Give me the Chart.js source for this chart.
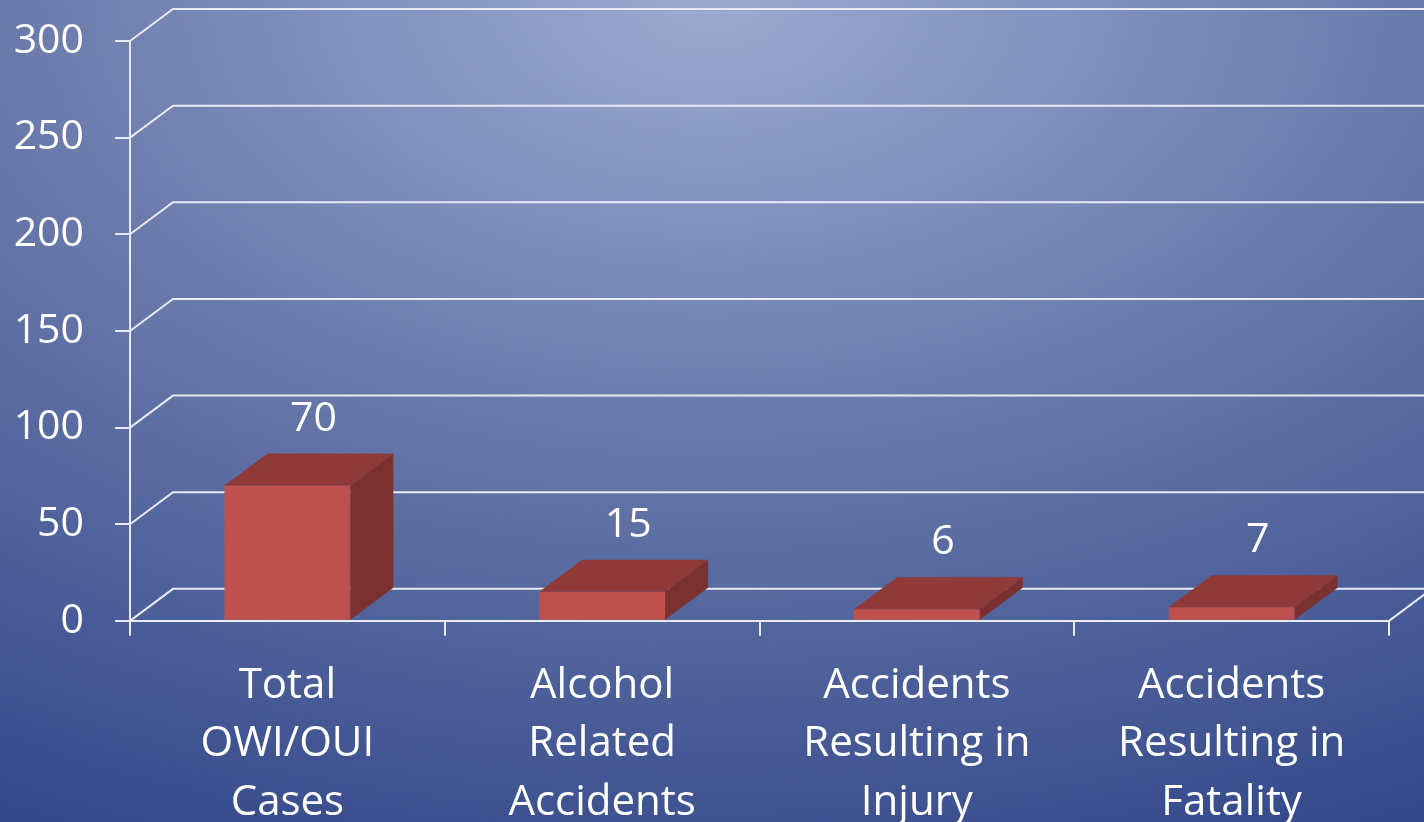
<!DOCTYPE html>
<html>
<head>
<meta charset="utf-8">
<script src="https://cdn.jsdelivr.net/npm/chart.js@4"></script>
<style>
    html, body { margin: 0; padding: 0; background: #4a5d98; }
    #wrap { width: 1424px; height: 822px; }
</style>
</head>
<body>
<div id="wrap"><canvas id="chart" width="1424" height="822"></canvas></div>
<script>
const categories = [
    ['Total', 'OWI/OUI', 'Cases'],
    ['Alcohol', 'Related', 'Accidents'],
    ['Accidents', 'Resulting in', 'Injury'],
    ['Accidents', 'Resulting in', 'Fatality']
]
const caseCounts = [70, 15, 6, 7]
const yTicks = [0, 50, 100, 150, 200, 250, 300]

const FONT = '"Open Sans", "Noto Sans", sans-serif'
const LINE = '#e8eaf2'
// depth of the 3D box in pixels
const DEPTH_X = 43
const DEPTH_Y = -32

const backgroundPlugin = {
    id: 'background',
    beforeDraw(chart) {
        const {ctx, width, height} = chart
        ctx.save()
        // elliptical glow from the top centre
        ctx.translate(width / 2, 0)
        ctx.scale(1, 0.6)
        const g = ctx.createRadialGradient(0, 0, 0, 0, 0, 1600)
        g.addColorStop(0, '#9caad1')
        g.addColorStop(0.44, '#6a7aab')
        g.addColorStop(0.96, '#33488a')
        g.addColorStop(1, '#31468a')
        ctx.fillStyle = g
        ctx.fillRect(-width, -10, width * 2, height / 0.6 + 20)
        ctx.restore()
    }
}

// back wall, floor and side wall lines
const wallPlugin = {
    id: 'walls',
    beforeDatasetsDraw(chart) {
        const {ctx, chartArea, scales: {y}} = chart
        const left = chartArea.left, right = chartArea.right
        ctx.save()
        ctx.strokeStyle = LINE
        ctx.lineWidth = 2
        yTicks.forEach(v => {
            const py = y.getPixelForValue(v)
            ctx.beginPath()
            ctx.moveTo(left, py)
            ctx.lineTo(left + DEPTH_X, py + DEPTH_Y)
            ctx.lineTo(chart.width + 10, py + DEPTH_Y)
            ctx.stroke()
        })
        const base = y.getPixelForValue(0)
        ctx.beginPath()
        ctx.moveTo(right, base)
        ctx.lineTo(right + DEPTH_X, base + DEPTH_Y)
        ctx.stroke()
        ctx.restore()
    }
}

// top and side faces of each bar plus the value labels
const boxPlugin = {
    id: 'boxes',
    afterDatasetsDraw(chart) {
        const {ctx} = chart
        const meta = chart.getDatasetMeta(0)
        ctx.save()
        meta.data.forEach((bar, i) => {
            const {x, y, base, width} = bar.getProps(['x', 'y', 'base', 'width'], true)
            const l = x - width / 2, r = x + width / 2
            ctx.fillStyle = '#8f3a39'
            ctx.beginPath()
            ctx.moveTo(l, y)
            ctx.lineTo(l + DEPTH_X, y + DEPTH_Y)
            ctx.lineTo(r + DEPTH_X, y + DEPTH_Y)
            ctx.lineTo(r, y)
            ctx.closePath()
            ctx.fill()
            ctx.fillStyle = '#7b3130'
            ctx.beginPath()
            ctx.moveTo(r, y)
            ctx.lineTo(r + DEPTH_X, y + DEPTH_Y)
            ctx.lineTo(r + DEPTH_X, base + DEPTH_Y)
            ctx.lineTo(r, base)
            ctx.closePath()
            ctx.fill()

            ctx.fillStyle = '#ffffff'
            ctx.font = '41px ' + FONT
            ctx.textAlign = 'center'
            ctx.textBaseline = 'alphabetic'
            ctx.fillText(String(caseCounts[i]), x + 26, y + DEPTH_Y - 23)
        })
        ctx.restore()
    }
}

new Chart(document.getElementById('chart'), {
    type: 'bar',
    data: {
        labels: categories,
        datasets: [{
            data: caseCounts,
            backgroundColor: '#c0504d',
            borderWidth: 0,
            categoryPercentage: 0.4,
            barPercentage: 1
        }]
    },
    options: {
        responsive: false,
        animation: false,
        events: [],
        layout: {padding: {top: 41, right: 35, left: 12, bottom: -31}},
        plugins: {legend: {display: false}, tooltip: {enabled: false}},
        scales: {
            x: {
                offset: true,
                grid: {offset: true, drawOnChartArea: false, color: LINE, lineWidth: 2, tickLength: 15},
                border: {color: LINE, width: 2},
                ticks: {
                    color: '#ffffff',
                    font: {family: FONT, size: 42, lineHeight: 1.39},
                    padding: 21,
                    maxRotation: 0,
                    autoSkip: false
                }
            },
            y: {
                min: 0,
                max: 300,
                afterFit: scale => {
                    scale.width = 118
                    scale.paddingTop = 0
                    scale.paddingBottom = 0
                },
                grid: {drawOnChartArea: false, color: LINE, lineWidth: 2, tickLength: 15},
                border: {color: LINE, width: 2},
                ticks: {
                    stepSize: 50,
                    color: '#ffffff',
                    font: {family: FONT, size: 41},
                    padding: 31
                }
            }
        }
    },
    plugins: [backgroundPlugin, wallPlugin, boxPlugin]
})
</script>
</body>
</html>
